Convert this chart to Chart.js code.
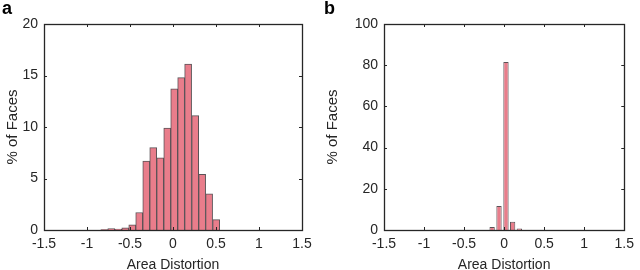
<!DOCTYPE html>
<html lang="en">
  <head>
    <meta charset="UTF-8" />
    <title>Area Distortion histograms</title>
    <script src="https://cdn.jsdelivr.net/npm/chart.js"></script>
    <style>
      body { margin: 0; background: #fff; }
      .wrap { position: relative; width: 640px; height: 270px; }
      .panel { position: absolute; top: 0; width: 320px; height: 270px; }
      .tag { position: absolute; top: -2px; font: bold 18px "Liberation Sans", Arial, sans-serif; color: #000; }
    </style>
  </head>
  <body>
    <div class="wrap">
      <div class="panel" style="left:0"><canvas id="chartA" width="320" height="270"></canvas></div>
      <div class="panel" style="left:320px"><canvas id="chartB" width="320" height="270"></canvas></div>
      <div class="tag" style="left:2px">a</div>
      <div class="tag" style="left:324px">b</div>
    </div>

    <script>
      // bin centres (area distortion) and % of faces
      const binsA = [-0.799, -0.718, -0.637, -0.555, -0.474, -0.393, -0.311, -0.230, -0.149,
                     -0.067, 0.014, 0.095, 0.176, 0.258, 0.339, 0.420, 0.502];
      const valuesA = [0.05, 0.15, 0.1, 0.2, 0.5, 1.7, 6.7, 8.0, 7.0,
                       9.9, 13.7, 14.8, 16.1, 11.1, 5.4, 3.5, 1.0];

      const binsB = [-0.150, -0.064, 0.023, 0.106, 0.190];
      const valuesB = [1.5, 11.7, 81.5, 4.0, 0.7];

      const xTicks = [-1.5, -1, -0.5, 0, 0.5, 1, 1.5];
      const yTicksA = [0, 5, 10, 15, 20];
      const yTicksB = [0, 20, 40, 60, 80, 100];

      const FONT = '"Liberation Sans", Arial, sans-serif';
      const AXIS = "#262626";

      // box around the plot with small inward ticks, matlab style
      const boxPlugin = {
        id: "box",
        afterDraw(chart) {
          const { ctx, chartArea: a, scales } = chart;
          const len = 3;
          ctx.save();
          ctx.strokeStyle = AXIS;
          ctx.lineWidth = 1;
          ctx.beginPath();
          xTicks.forEach((v) => {
            const px = Math.round(scales.x.getPixelForValue(v)) + 0.5;
            ctx.moveTo(px, a.bottom); ctx.lineTo(px, a.bottom - len);
            ctx.moveTo(px, a.top); ctx.lineTo(px, a.top + len);
          });
          scales.y.ticks.forEach((t) => {
            const py = Math.round(scales.y.getPixelForValue(t.value)) + 0.5;
            ctx.moveTo(a.left, py); ctx.lineTo(a.left + len, py);
            ctx.moveTo(a.right, py); ctx.lineTo(a.right - len, py);
          });
          ctx.stroke();
          ctx.lineWidth = 1.3;
          ctx.strokeRect(Math.round(a.left) + 0.5, Math.round(a.top) + 0.5,
                         Math.round(a.right - a.left), Math.round(a.bottom - a.top));
          ctx.restore();
        },
      };

      function makeChart(id, bins, values, yTicks, yWidth, rightPad, barPct) {
        const ctx = document.getElementById(id).getContext("2d");
        return new Chart(ctx, {
          type: "bar",
          data: {
            datasets: [
              {
                data: bins.map((x, i) => ({ x: x, y: values[i] })),
                backgroundColor: "#e97d8b",
                borderColor: "#5b5357",
                borderWidth: 1,
                barPercentage: barPct,
                categoryPercentage: 1,
              },
            ],
          },
          options: {
            responsive: false,
            animation: false,
            layout: { padding: { top: 24, right: rightPad, left: 0, bottom: -4 } },
            plugins: { legend: { display: false }, tooltip: { enabled: false } },
            scales: {
              x: {
                type: "linear",
                min: -1.5,
                max: 1.5,
                offset: false,
                afterBuildTicks: (s) => { s.ticks = xTicks.map((v) => ({ value: v })); },
                afterFit: (s) => { s.height = 44; },
                grid: { display: false, drawTicks: false },
                border: { display: false },
                ticks: {
                  color: "#262626",
                  font: { family: FONT, size: 14 },
                  padding: 6,
                  maxRotation: 0,
                  callback: (v) => String(v),
                },
                title: {
                  display: true,
                  text: "Area Distortion",
                  color: "#262626",
                  font: { family: FONT, size: 14 },
                  padding: { top: 0, bottom: 0 },
                },
              },
              y: {
                min: 0,
                max: yTicks[yTicks.length - 1],
                afterBuildTicks: (s) => { s.ticks = yTicks.map((v) => ({ value: v })); },
                afterFit: (s) => { s.width = yWidth; },
                grid: { display: false, drawTicks: false },
                border: { display: false },
                ticks: {
                  color: "#262626",
                  font: { family: FONT, size: 14 },
                  padding: 6,
                },
                title: {
                  display: true,
                  text: "% of Faces",
                  color: "#262626",
                  font: { family: FONT, size: 15 },
                  padding: { top: 4, bottom: 0 },
                },
              },
            },
          },
          plugins: [boxPlugin],
        });
      }

      makeChart("chartA", binsA, valuesA, yTicksA, 44, 18, 1);
      makeChart("chartB", binsB, valuesB, yTicksB, 64, 9, 0.8);
    </script>
  </body>
</html>
